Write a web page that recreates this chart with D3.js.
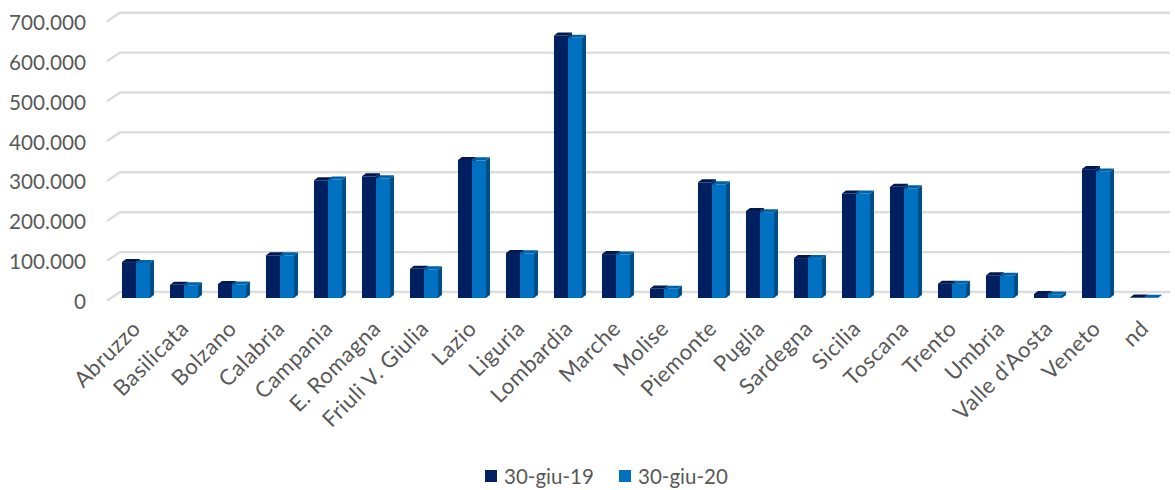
<!DOCTYPE html>
<html>
<head>
<meta charset="utf-8">
<script src="https://d3js.org/d3.v7.min.js"></script>
<style>
  html, body { margin: 0; padding: 0; background: #fff; }
  svg { display: block; }
  text { font-family: Lato, "Open Sans", sans-serif; fill: #595959; }
</style>
</head>
<body>
<svg id="chart" width="1175" height="490"></svg>
<script>
const categories = ['Abruzzo', 'Basilicata', 'Bolzano', 'Calabria', 'Campania', 'E. Romagna', 'Friuli V. Giulia',
  'Lazio', 'Liguria', 'Lombardia', 'Marche', 'Molise', 'Piemonte', 'Puglia', 'Sardegna', 'Sicilia', 'Toscana',
  'Trento', 'Umbria', "Valle d'Aosta", 'Veneto', 'nd'];
const giu19 = [90000, 33000, 35000, 107000, 295000, 305000, 73000, 346000, 113000, 658000, 110000, 24000,
  290000, 218000, 100000, 262000, 279000, 36000, 57000, 10000, 323000, 1000];
const giu20 = [88000, 32000, 34000, 107000, 297000, 300000, 72000, 345000, 112000, 652000, 109000, 23000,
  285000, 215000, 100000, 262000, 275000, 36000, 56000, 9000, 317000, 500];
const yTicks = [0, 100000, 200000, 300000, 400000, 500000, 600000, 700000];
const seriesNames = ['30-giu-19', '30-giu-20'];

const colors = [
  { front: '#002060', top: '#001a4f', side: '#001a4f' },
  { front: '#0070c0', top: '#0062a8', side: '#004f88' }
];

const svg = d3.select('#chart');
const depthX = 4, depthY = 3;

const x = d3.scaleBand().domain(categories).range([112, 1168]);
const y = d3.scaleLinear().domain([0, 700000]).range([298, 18.7]);
const barW = 14;

const fmt = d3.formatLocale({ decimal: ',', thousands: '.', grouping: [3], currency: ['', ''] }).format(',d');

// gridlines: short slanted floor piece then the back wall line
svg.append('g').selectAll('polyline')
  .data(yTicks)
  .join('polyline')
  .attr('points', d => `107,${y(d) + 2.7} 120,${y(d) - 6} 1170,${y(d) - 6}`)
  .attr('fill', 'none')
  .attr('stroke', '#dcdcdc')
  .attr('stroke-width', 2.4);

// y labels
const yAxis = d3.axisLeft(y).tickValues(yTicks).tickSize(0).tickPadding(0).tickFormat(fmt);
svg.append('g')
  .attr('transform', 'translate(86,4)')
  .call(yAxis)
  .call(g => g.select('.domain').remove())
  .selectAll('text')
  .style('font-family', 'Lato, sans-serif')
  .style('font-size', '20.7px')
  .attr('fill', '#595959');

// bars
[giu19, giu20].forEach((vals, s) => {
  const g = svg.append('g');
  const c = colors[s];
  const left = (d, i) => x(categories[i]) + x.bandwidth() / 2 - barW + s * barW;
  g.selectAll('.top').data(vals).join('polygon')
    .attr('fill', c.top)
    .attr('points', (d, i) => {
      const a = left(d, i), t = y(d);
      return [[a, t], [a + depthX, t - depthY], [a + barW + depthX, t - depthY], [a + barW, t]].join(' ');
    });
  g.selectAll('.side').data(vals).join('polygon')
    .attr('fill', c.side)
    .attr('points', (d, i) => {
      const a = left(d, i) + barW, t = y(d), b = y(0);
      return [[a, t], [a + depthX, t - depthY], [a + depthX, b - depthY], [a, b]].join(' ');
    });
  g.selectAll('rect').data(vals).join('rect')
    .attr('x', left)
    .attr('y', d => y(d))
    .attr('width', barW)
    .attr('height', d => y(0) - y(d))
    .attr('fill', c.front);
});

// x labels
svg.append('g').selectAll('text')
  .data(categories)
  .join('text')
  .attr('text-anchor', 'end')
  .attr('transform', d => `translate(${x(d) + x.bandwidth() / 2 + 6},${330}) rotate(-45)`)
  .attr('font-size', 22)
  .attr('letter-spacing', 0.5)
  .text(d => d);

// legend
const legend = svg.append('g');
const legendX = [485, 619];
seriesNames.forEach((name, i) => {
  legend.append('rect')
    .attr('x', legendX[i]).attr('y', 470)
    .attr('width', 12).attr('height', 12)
    .attr('fill', colors[i].front);
  legend.append('text')
    .attr('x', legendX[i] + 19).attr('y', 484)
    .attr('font-size', 20.5)
    .text(name);
});
</script>
</body>
</html>
